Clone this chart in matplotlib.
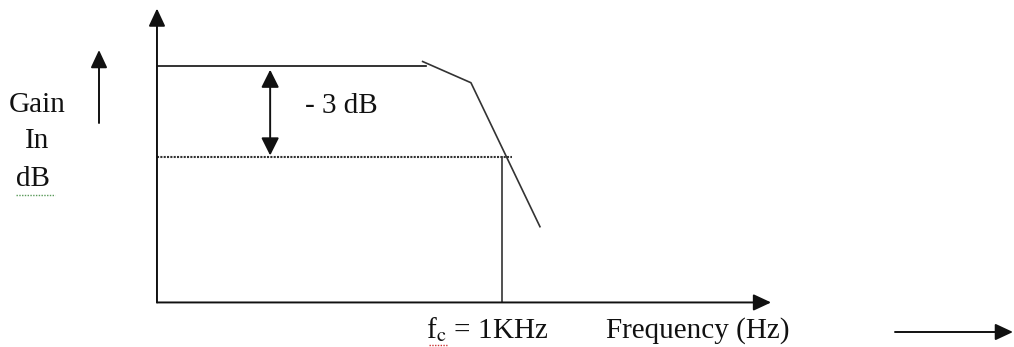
import matplotlib.pyplot as plt

plt.rcParams['font.family'] = ['Liberation Serif', 'DejaVu Serif']
plt.rcParams['mathtext.fontset'] = 'stix'

# Schematic values: frequency in kHz, gain in dB
fc_khz = 1.0
passband_db = 0.0
cutoff_db = -3.0
passband_end_khz = 0.78
knee_freq_khz = [0.77, 0.91, 1.11]
knee_gain_db = [0.15, -0.55, -5.3]
dotted_end_khz = 1.03
drop_marker_khz = 0.328
axis_floor_db = -7.8
axis_top_db = 1.9
axis_right_khz = 1.78

INK = '#111111'
GREY = '#333333'
FS = 21

fig = plt.figure(figsize=(10.14, 3.47), dpi=100)
ax = fig.add_axes([0, 0, 1, 1])
ax.set_xlim(-0.455, 2.484)
ax.set_ylim(-9.27, 2.18)
ax.axis('off')

arrow_kw = dict(arrowstyle='-|>,head_length=0.6,head_width=0.28',
                mutation_scale=18, color=INK, lw=1.4, shrinkA=0, shrinkB=0)

# axes with arrow heads
ax.annotate('', xy=(0, axis_top_db), xytext=(0, axis_floor_db), arrowprops=arrow_kw)
ax.annotate('', xy=(axis_right_khz, axis_floor_db), xytext=(0, axis_floor_db),
            arrowprops=arrow_kw)

# passband, knee and roll-off
ax.plot([0, passband_end_khz], [passband_db, passband_db], color=INK, lw=1.2)
ax.plot(knee_freq_khz, knee_gain_db, color=GREY, lw=1.2)

# -3 dB level and cut-off frequency
ax.plot([0, dotted_end_khz], [cutoff_db, cutoff_db], color=GREY, lw=1.5,
        linestyle=(0, (1, 0.6)))
ax.plot([fc_khz, fc_khz], [cutoff_db, axis_floor_db], color=GREY, lw=1.2)

# double arrow marking the 3 dB drop
ax.annotate('', xy=(drop_marker_khz, passband_db - 0.12),
            xytext=(drop_marker_khz, cutoff_db + 0.05),
            arrowprops=dict(arrowstyle='<|-|>,head_length=0.6,head_width=0.3',
                            mutation_scale=18, color=INK, lw=1.4,
                            shrinkA=0, shrinkB=0))
ax.text(305 / 1014, 1 - 113 / 347, '- 3 dB', transform=fig.transFigure,
        fontsize=FS, color=INK, va='baseline', ha='left')

# y label with its own arrow
for txt, x0, yb in [('Gain', 9, 112), ('In', 25, 148), ('dB', 16, 186)]:
    fig.text(x0 / 1014, 1 - yb / 347, txt, fontsize=FS, color=INK,
             va='baseline', ha='left')
ax.plot([16 / 1014, 55 / 1014], [1 - 195 / 347] * 2, transform=fig.transFigure,
        color='#5a9a5a', lw=1.0, linestyle=(0, (1, 1)))
ax.annotate('', xy=(99 / 1014, 1 - 50 / 347), xytext=(99 / 1014, 1 - 123 / 347),
            xycoords='figure fraction', textcoords='figure fraction',
            arrowprops=arrow_kw)

# x labels
fig.text(426 / 1014, 1 - 338 / 347, r'f$_{\mathrm{c}}$ = 1KHz', fontsize=FS,
         color=INK, va='baseline', ha='left')
ax.plot([429 / 1014, 447 / 1014], [1 - 345 / 347] * 2, transform=fig.transFigure,
        color='#cc3333', lw=1.0, linestyle=(0, (1, 1)))
fig.text(606 / 1014, 1 - 338 / 347, 'Frequency (Hz)', fontsize=FS, color=INK,
         va='baseline', ha='left')
ax.annotate('', xy=(1013 / 1014, 1 - 332 / 347), xytext=(895 / 1014, 1 - 332 / 347),
            xycoords='figure fraction', textcoords='figure fraction',
            arrowprops=arrow_kw)

fig.savefig('out.png', dpi=100, facecolor='white')
